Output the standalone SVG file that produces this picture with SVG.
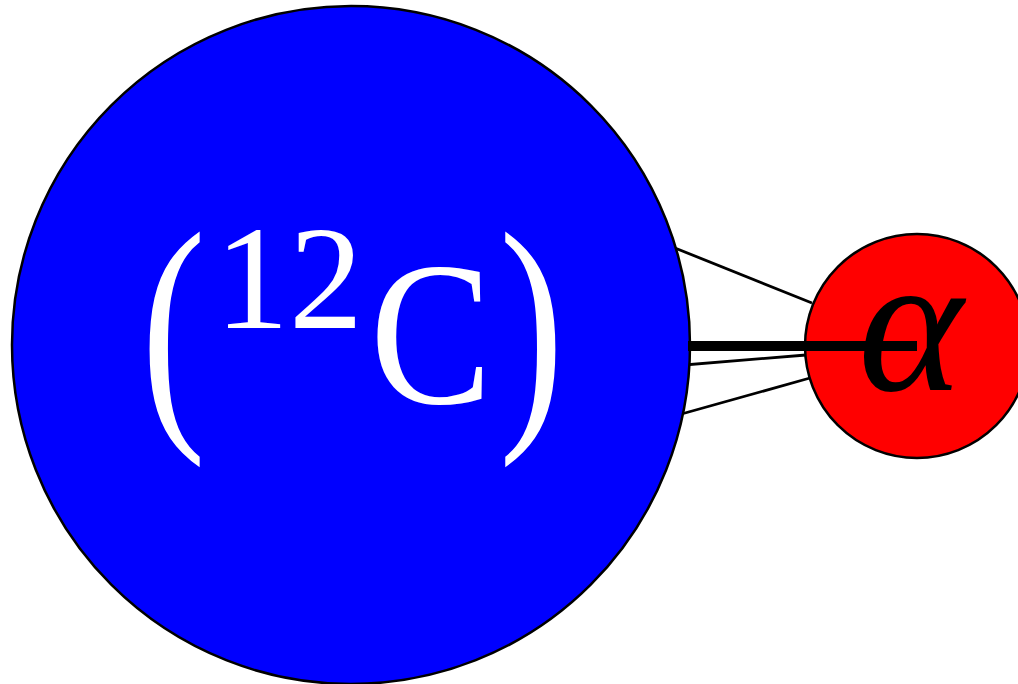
<svg xmlns="http://www.w3.org/2000/svg" width="1018" height="684" viewBox="0 0 1018 684">
<style>
.thin{stroke:#000;stroke-width:2.8;fill:none}
.node{stroke:#000;stroke-width:2.5}
.lbl{font-family:"Liberation Serif","DejaVu Serif",serif}
</style>
<rect width="1018" height="684" fill="#fff"/>
<g id="connectors">
<line class="thin" x1="660" y1="242" x2="812" y2="303"/>
<line class="thin" x1="660" y1="367" x2="806" y2="355"/>
<line class="thin" x1="660" y1="420" x2="810" y2="378"/>
</g>
<g id="carbon">
<circle class="node" cx="351" cy="345" r="339" fill="#0000ff"/>
<text class="lbl" transform="translate(141,412) scale(0.75,1)" font-size="260" fill="#fff">(</text>
<text class="lbl" x="215" y="328" font-size="148" fill="#fff">12</text>
<text class="lbl" x="370" y="403" font-size="205" fill="#fff" textLength="122" lengthAdjust="spacingAndGlyphs">C</text>
<text class="lbl" transform="translate(499,412) scale(0.75,1)" font-size="260" fill="#fff">)</text>
</g>
<g id="alpha">
<circle class="node" cx="917" cy="346" r="112" fill="#ff0000"/>
<text class="lbl" x="858" y="390" font-size="200" font-style="italic" fill="#000">α</text>
</g>
<g id="bond">
<line x1="688" y1="346" x2="917" y2="346" stroke="#000" stroke-width="10"/>
</g>
</svg>
